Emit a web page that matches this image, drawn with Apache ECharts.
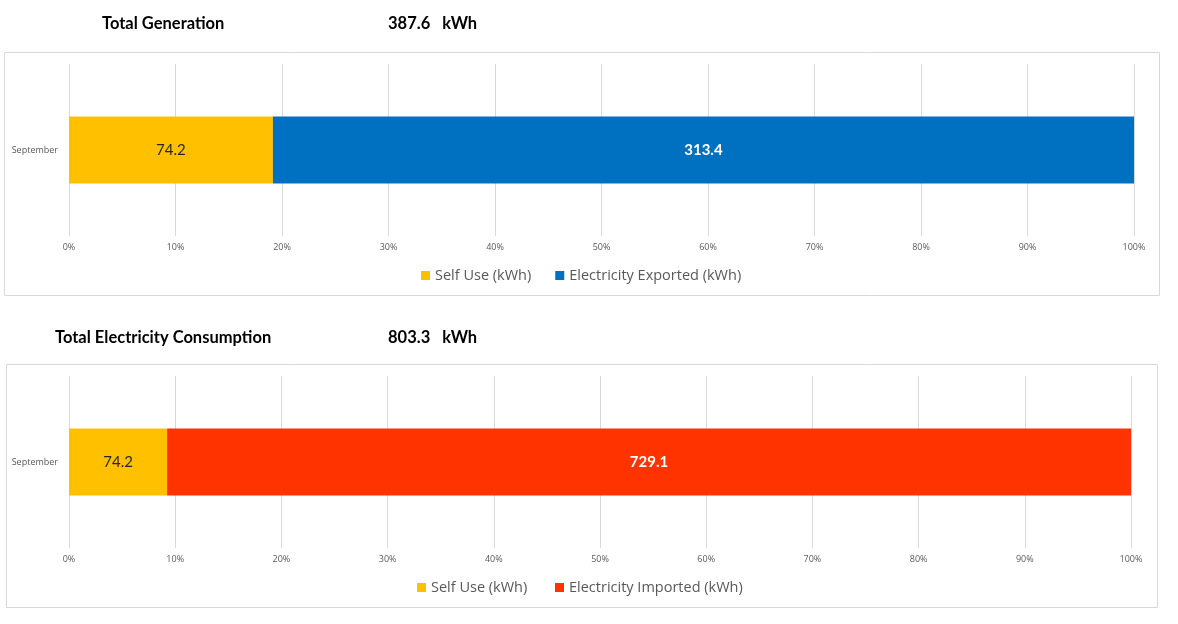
<!DOCTYPE html>
<html><head><meta charset="utf-8">
<script src="https://cdn.jsdelivr.net/npm/echarts@6/dist/echarts.min.js"></script>
<style>html,body{margin:0;padding:0;background:#fff}#c{width:1178px;height:624px}</style>
</head><body><div id="c"></div>
<script>
const categories = ['September'];
const genSeriesNames = ['Self Use (kWh)', 'Electricity Exported (kWh)'];
const genValues = [74.2, 313.4];
const conSeriesNames = ['Self Use (kWh)', 'Electricity Imported (kWh)'];
const conValues = [74.2, 729.1];
const percentTicks = [0,10,20,30,40,50,60,70,80,90,100];

const FONT = 'Lato, "Open Sans", sans-serif';
const SMALL = '"Open Sans", sans-serif';
const genTotal = genValues.reduce((a,b)=>a+b,0);
const conTotal = conValues.reduce((a,b)=>a+b,0);

function xAxis(gi){
  return {gridIndex:gi,type:'value',min:0,max:100,interval:10,
    axisLine:{show:false},axisTick:{show:false},
    splitLine:{lineStyle:{color:'#d9d9d9'}},
    axisLabel:{formatter:v=>v+'%',fontSize:9,color:'#595959',fontFamily:SMALL,margin:7}};
}
function yAxis(gi){
  return {gridIndex:gi,type:'category',data:categories,
    axisLine:{show:false},axisTick:{show:false},
    axisLabel:{fontSize:9,color:'#595959',fontFamily:SMALL,margin:11}};
}
function series(name, val, total, gi, color, labelColor, stack){
  return {name:name,type:'bar',stack:stack,xAxisIndex:gi,yAxisIndex:gi,barWidth:67,
    data:[val/total*100],itemStyle:{color:color},
    label:{show:true,position:'inside',formatter:()=>val.toFixed(1),fontSize:15,
      color:labelColor,fontFamily:FONT,fontWeight:labelColor==='#fff'?'bold':'normal'}};
}
const TS = {fontSize:16.5,fontWeight:'bold',color:'#000',fontFamily:FONT};
const LS = {fontSize:14.5,color:'#595959',fontFamily:SMALL};
const chart = echarts.init(document.getElementById('c'));
chart.setOption({
  animation:false,
  title:[
    {text:'Total Generation',left:97,top:10,textStyle:TS},
    {text:genTotal.toFixed(1)+'   kWh',left:383,top:10,textStyle:TS},
    {text:'Total Electricity Consumption',left:50,top:324,textStyle:TS},
    {text:conTotal.toFixed(1)+'   kWh',left:383,top:324,textStyle:TS}
  ],
  graphic:[
    {type:'rect',shape:{x:4.5,y:52.5,width:1155,height:243},style:{fill:'none',stroke:'#d9d9d9',lineWidth:1},z:-1},
    {type:'rect',shape:{x:6.5,y:364.5,width:1151,height:243},style:{fill:'none',stroke:'#d9d9d9',lineWidth:1},z:-1}
  ],
  legend:[
    {left:416,top:263,itemWidth:9,itemHeight:9,itemGap:24,icon:'rect',
      data:genSeriesNames,textStyle:LS},
    {left:412,top:575,itemWidth:9,itemHeight:9,itemGap:24,icon:'rect',
      data:[{name:conSeriesNames[0]+' '},{name:conSeriesNames[1]}],textStyle:LS}
  ],
  grid:[
    {left:69,right:44,top:64,height:172},
    {left:69,right:47,top:376,height:172}
  ],
  xAxis:[xAxis(0),xAxis(1)],
  yAxis:[yAxis(0),yAxis(1)],
  series:[
    series(genSeriesNames[0],genValues[0],genTotal,0,'#FFC000','#262626','g'),
    series(genSeriesNames[1],genValues[1],genTotal,0,'#0070C0','#fff','g'),
    series(conSeriesNames[0]+' ',conValues[0],conTotal,1,'#FFC000','#262626','c'),
    series(conSeriesNames[1],conValues[1],conTotal,1,'#FF3300','#fff','c')
  ]
});
</script></body></html>
